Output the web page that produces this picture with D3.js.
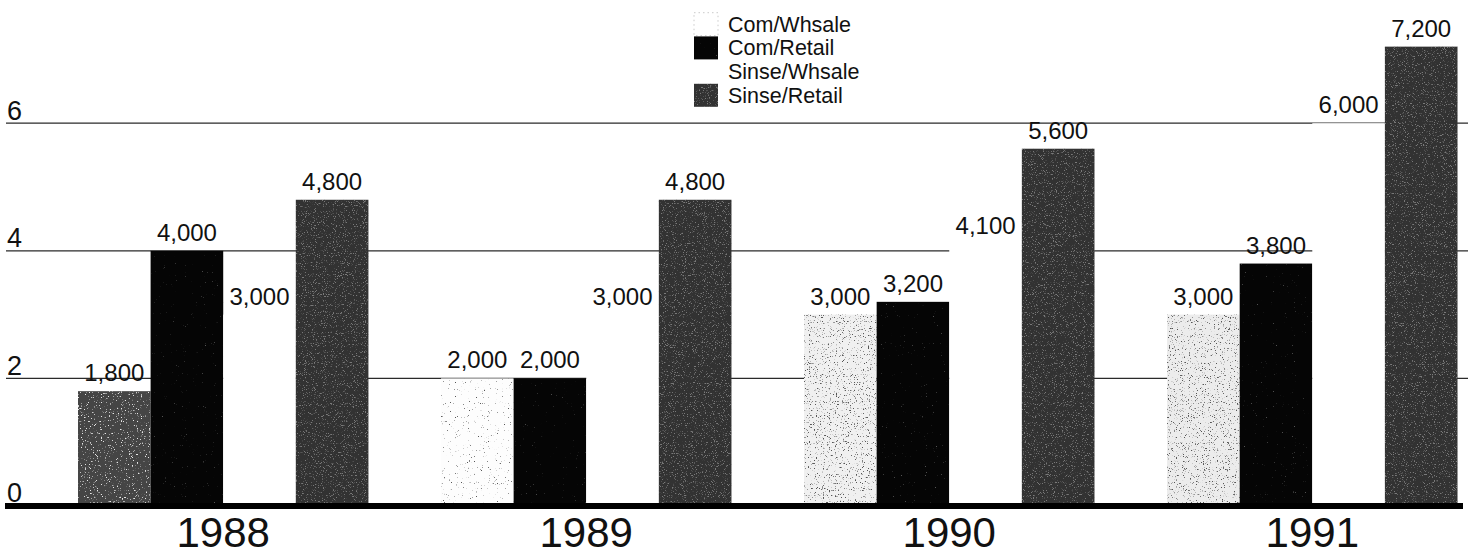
<!DOCTYPE html>
<html>
<head>
<meta charset="utf-8">
<script src="https://cdn.jsdelivr.net/npm/d3@7/dist/d3.min.js"></script>
<style>
  html, body { margin: 0; padding: 0; background: #fff; }
  svg { display: block; font-family: "Liberation Sans", Arial, Helvetica, sans-serif; }
</style>
</head>
<body>
<svg id="chart" width="1471" height="556"></svg>
<script>
// Marijuana prices by year (dollars per pound)
const years = ["1988", "1989", "1990", "1991"];
const seriesNames = ["Com/Whsale", "Com/Retail", "Sinse/Whsale", "Sinse/Retail"];
const comWhsale = [1800, 2000, 3000, 3000];
const comRetail = [4000, 2000, 3200, 3800];
const sinseWhsale = [3000, 3000, 4100, 6000];
const sinseRetail = [4800, 4800, 5600, 7200];
const tickValues = [0, 2000, 4000, 6000];
const tickLabels = ["0", "2", "4", "6"];

const seriesValues = [comWhsale, comRetail, sinseWhsale, sinseRetail];
const rows = [];
years.forEach((yr, i) => {
  seriesNames.forEach((s, j) => rows.push({ year: yr, series: s, value: seriesValues[j][i] }));
});

const svg = d3.select("#chart");

// ---- textures ----
const defs = svg.append("defs");
function speckle(id, dotColor, freq, threshold, gain, seed) {
  const f = defs.append("filter").attr("id", id)
    .attr("x", 0).attr("y", 0).attr("width", 1).attr("height", 1)
    .attr("color-interpolation-filters", "sRGB");
  f.append("feTurbulence").attr("type", "fractalNoise")
    .attr("baseFrequency", freq).attr("numOctaves", 2).attr("seed", seed).attr("result", "noise");
  const c = d3.color(dotColor);
  f.append("feColorMatrix").attr("in", "noise").attr("type", "matrix")
    .attr("values", [
      0, 0, 0, 0, c.r / 255,
      0, 0, 0, 0, c.g / 255,
      0, 0, 0, 0, c.b / 255,
      -gain, 0, 0, 0, gain * threshold
    ].join(" ")).attr("result", "dots");
  f.append("feComposite").attr("in", "dots").attr("in2", "SourceAlpha")
    .attr("operator", "in").attr("result", "clipped");
  const m = f.append("feMerge");
  m.append("feMergeNode").attr("in", "SourceGraphic");
  m.append("feMergeNode").attr("in", "clipped");
}
speckle("spk-dark", "#e8e8e8", 0.75, 0.36, 9, 4);     // grey bar with light flecks
speckle("spk-sinse", "#7a7a7a", 0.9, 0.40, 8, 7);    // dark grey screen
speckle("spk-light", "#555555", 0.85, 0.37, 8, 11);   // pale stipple
speckle("spk-faint", "#555555", 0.85, 0.31, 8, 13);   // very sparse stipple
speckle("spk-black", "#555555", 0.9, 0.25, 8, 17);    // near-solid black

// Fill per series; wholesale commercial bars vary in screen density by year
const seriesStyle = {
  "Com/Whsale":   { fill: "#5a5a5a", filter: "spk-dark" },
  "Com/Retail":   { fill: "#050505", filter: "spk-black" },
  "Sinse/Whsale": { fill: "#ffffff", filter: null },
  "Sinse/Retail": { fill: "#323232", filter: "spk-sinse" }
};
const comWhsaleScreen = {
  "1988": { fill: "#454545", filter: "spk-dark" },
  "1989": { fill: "#fdfdfd", filter: "spk-faint" },
  "1990": { fill: "#f0f0f0", filter: "spk-light" },
  "1991": { fill: "#ececec", filter: "spk-light" }
};
function styleFor(d) {
  return d.series === "Com/Whsale" ? comWhsaleScreen[d.year] : seriesStyle[d.series];
}

// ---- scales ----
const x0 = d3.scaleBand().domain(years).range([78, 1457.5]).paddingInner(0.2).paddingOuter(0);
const x1 = d3.scaleBand().domain(seriesNames).range([0, x0.bandwidth()]).padding(0);
const y = d3.scaleLinear().domain([0, 8000]).range([506, 506 - 8 * 63.8]);

// ---- gridlines and y labels ----
svg.append("g").selectAll("line")
  .data(tickValues.filter(v => v > 0))
  .join("line")
  .attr("x1", 6).attr("x2", 1468)
  .attr("y1", d => y(d)).attr("y2", d => y(d))
  .attr("stroke", "#2a2a2a").attr("stroke-width", 1.3);

svg.append("g").selectAll("text")
  .data(tickValues)
  .join("text")
  .attr("x", 7)
  .attr("y", d => d === 0 ? y(d) - 4.5 : y(d) - 3.5)
  .attr("font-size", 27)
  .attr("fill", "#111")
  .text((d, i) => tickLabels[i]);

// ---- bars ----
svg.append("g").selectAll("rect")
  .data(rows)
  .join("rect")
  .attr("x", d => x0(d.year) + x1(d.series))
  .attr("y", d => y(d.value))
  .attr("width", x1.bandwidth())
  .attr("height", d => y(0) - y(d.value))
  .attr("fill", d => styleFor(d).fill)
  .attr("filter", d => styleFor(d).filter ? `url(#${styleFor(d).filter})` : null);

// ---- value labels ----
const fmt = d3.format(",");
svg.append("g").selectAll("text")
  .data(rows)
  .join("text")
  .attr("x", d => x0(d.year) + x1(d.series) + x1.bandwidth() / 2)
  .attr("y", d => y(d.value) - 10)
  .attr("text-anchor", "middle")
  .attr("font-size", 24)
  .attr("fill", "#111")
  .text(d => fmt(d.value));

// ---- baseline ----
svg.append("line")
  .attr("x1", 5).attr("x2", 1463)
  .attr("y1", y(0)).attr("y2", y(0))
  .attr("stroke", "#000").attr("stroke-width", 6);

// ---- year labels ----
svg.append("g").selectAll("text")
  .data(years)
  .join("text")
  .attr("x", d => x0(d) + x0.bandwidth() / 2)
  .attr("y", 547)
  .attr("text-anchor", "middle")
  .attr("font-size", 42)
  .attr("fill", "#111")
  .text(d => d);

// ---- legend ----
const legend = svg.append("g").attr("transform", "translate(694, 0)");
const legendRows = legend.selectAll("g")
  .data(seriesNames)
  .join("g")
  .attr("transform", (d, i) => `translate(0, ${31.7 + i * 23.7})`);
legendRows.append("rect")
  .attr("x", 0).attr("y", -19).attr("width", 24).attr("height", 23)
  .attr("fill", d => d === "Com/Whsale" ? "#ffffff" : seriesStyle[d].fill)
  .attr("stroke", d => d === "Com/Whsale" ? "#bdbdbd" : "none")
  .attr("stroke-width", 0.8)
  .attr("stroke-dasharray", d => d === "Com/Whsale" ? "1.5 3" : null)
  .attr("filter", d => d === "Com/Whsale" ? null : (seriesStyle[d].filter ? `url(#${seriesStyle[d].filter})` : null));
legendRows.append("text")
  .attr("x", 34).attr("y", 0)
  .attr("font-size", 21.5)
  .attr("fill", "#111")
  .text(d => d);
</script>
</body>
</html>
